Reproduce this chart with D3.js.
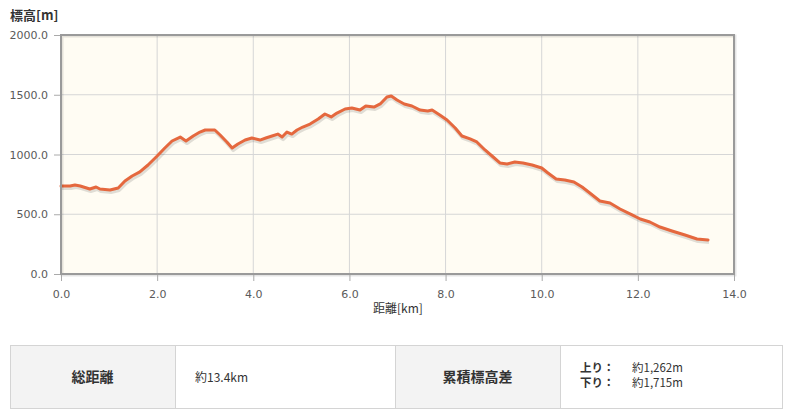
<!DOCTYPE html>
<html>
<head>
<meta charset="utf-8">
<script src="https://cdn.jsdelivr.net/npm/d3@7"></script>
<style>
  body { margin: 0; background: #fff; }
  svg { display: block; }
</style>
</head>
<body>
<svg id="chart" width="792" height="415"></svg>
<script>
// elevation profile
var distKm = [0.0, 0.19, 0.29, 0.4, 0.6, 0.73, 0.81, 1.02, 1.19, 1.33, 1.48, 1.64, 1.81, 2.0, 2.16, 2.31, 2.48,
    2.6, 2.75, 2.89, 3.0, 3.2, 3.31, 3.45, 3.56, 3.68, 3.83, 3.97, 4.14, 4.26, 4.39, 4.51, 4.6, 4.7, 4.8, 4.91,
    5.03, 5.18, 5.35, 5.49, 5.62, 5.74, 5.91, 6.05, 6.22, 6.34, 6.51, 6.64, 6.78, 6.87, 6.99, 7.14, 7.3, 7.47,
    7.63, 7.72, 7.88, 8.03, 8.2, 8.34, 8.51, 8.65, 8.82, 8.99, 9.13, 9.28, 9.44, 9.61, 9.8, 10.0, 10.13, 10.3,
    10.48, 10.67, 10.84, 11.0, 11.21, 11.42, 11.63, 11.88, 12.05, 12.25, 12.46, 12.71, 12.98, 13.23, 13.46];
var elevM = [736, 736, 745, 736, 711, 728, 711, 703, 720, 778, 820, 854, 912, 987, 1054, 1113, 1146,
    1113, 1155, 1188, 1205, 1205, 1163, 1105, 1054, 1088, 1121, 1138, 1121, 1138, 1155, 1171, 1146, 1188, 1171, 1205,
    1230, 1255, 1297, 1339, 1314, 1347, 1381, 1389, 1372, 1406, 1397, 1423, 1481, 1490, 1456, 1423, 1406, 1372,
    1364, 1372, 1331, 1289, 1222, 1155, 1130, 1105, 1038, 979, 929, 921, 937, 929, 912, 887, 845, 795,
    787, 770, 728, 678, 611, 594, 544, 494, 460, 435, 393, 360, 326, 293, 285];

var xTicks = [0, 2, 4, 6, 8, 10, 12, 14];
var yTicks = [0, 500, 1000, 1500, 2000];

var yTitle = "標高[m]";
var xTitle = "距離[km]";

var summaryLabels = ["総距離", "累積標高差"];
var totalDistance = "約13.4km";
var climbLabels = ["上り：", "下り："];
var climbValues = ["約1,262m", "約1,715m"];

var svg = d3.select("#chart");
var jp = "'Noto Sans CJK JP', 'DejaVu Sans', sans-serif";
var num = "'DejaVu Sans', sans-serif";

var plot = { left: 61, right: 734, top: 35, bottom: 274 };

var x = d3.scaleLinear().domain([0, 14]).range([plot.left, plot.right]);
var y = d3.scaleLinear().domain([0, 2000]).range([plot.bottom, plot.top]);

// plot background
svg.append("rect")
    .attr("x", plot.left).attr("y", plot.top)
    .attr("width", plot.right - plot.left).attr("height", plot.bottom - plot.top)
    .style("fill", "#fffcf3");

// grid
svg.append("g").selectAll("line.vgrid")
    .data(xTicks.slice(1, -1))
    .enter().append("line")
    .attr("x1", d => x(d)).attr("x2", d => x(d))
    .attr("y1", plot.top).attr("y2", plot.bottom)
    .style("stroke", "#d6d6d6").style("stroke-width", 1);
svg.append("g").selectAll("line.hgrid")
    .data(yTicks.slice(1, -1))
    .enter().append("line")
    .attr("x1", plot.left).attr("x2", plot.right)
    .attr("y1", d => y(d)).attr("y2", d => y(d))
    .style("stroke", "#d6d6d6").style("stroke-width", 1);

var line = d3.line()
    .x((d, i) => x(distKm[i]))
    .y(d => y(d));

// line shadow
svg.append("path")
    .datum(elevM)
    .attr("d", line)
    .attr("transform", "translate(1,2)")
    .style("fill", "none")
    .style("stroke", "#000")
    .style("stroke-opacity", 0.12)
    .style("stroke-width", 4)
    .style("stroke-linejoin", "round");

svg.append("path")
    .datum(elevM)
    .attr("d", line)
    .style("fill", "none")
    .style("stroke", "#e5683e")
    .style("stroke-width", 3)
    .style("stroke-linejoin", "round")
    .style("stroke-linecap", "round");

// frame with soft shadow
svg.append("rect")
    .attr("x", plot.left + 1).attr("y", plot.top + 1)
    .attr("width", plot.right - plot.left).attr("height", plot.bottom - plot.top)
    .style("fill", "none").style("stroke", "#000").style("stroke-opacity", 0.1).style("stroke-width", 3);
svg.append("rect")
    .attr("x", plot.left).attr("y", plot.top)
    .attr("width", plot.right - plot.left).attr("height", plot.bottom - plot.top)
    .style("fill", "none").style("stroke", "#9a9a9a").style("stroke-width", 2);

// axes
var yAxis = d3.axisLeft(y).tickValues(yTicks).tickFormat(d3.format(".1f")).tickSize(6).tickPadding(6);
var xAxis = d3.axisBottom(x).tickValues(xTicks).tickFormat(d3.format(".1f")).tickSize(6).tickPadding(9);

var gy = svg.append("g").attr("transform", `translate(${plot.left - 1},0)`).call(yAxis);
var gx = svg.append("g").attr("transform", `translate(0,${plot.bottom + 1})`).call(xAxis);
[gy, gx].forEach(g => {
    g.select(".domain").remove();
    g.selectAll(".tick line").style("stroke", "#aaa");
    g.selectAll("text")
        .style("font-family", num)
        .style("font-size", "11px")
        .style("fill", "#5a5a5a");
});

svg.append("text")
    .attr("x", 10).attr("y", 20)
    .style("font-family", jp).style("font-size", "13px").style("font-weight", "bold")
    .style("fill", "#333")
    .text(yTitle);

svg.append("text")
    .attr("x", 398).attr("y", 313)
    .attr("text-anchor", "middle")
    .style("font-family", jp).style("font-size", "12px")
    .style("fill", "#333")
    .text(xTitle);

// summary table
var cells = [
    { x0: 10, x1: 175, head: true, text: summaryLabels[0] },
    { x0: 175, x1: 395, head: false },
    { x0: 395, x1: 560, head: true, text: summaryLabels[1] },
    { x0: 560, x1: 782, head: false }
];
var tTop = 345, tBot = 408;

svg.append("g").selectAll("rect.cell")
    .data(cells)
    .enter().append("rect")
    .attr("x", d => d.x0 + 0.5).attr("y", tTop + 0.5)
    .attr("width", d => d.x1 - d.x0).attr("height", tBot - tTop)
    .style("fill", d => d.head ? "#f3f3f3" : "#fff")
    .style("stroke", "#d4d4d4");

svg.append("g").selectAll("text.head")
    .data(cells.filter(d => d.head))
    .enter().append("text")
    .attr("x", d => (d.x0 + d.x1) / 2).attr("y", 382)
    .attr("text-anchor", "middle")
    .style("font-family", jp).style("font-size", "14px").style("font-weight", "bold")
    .style("fill", "#333")
    .text(d => d.text);

svg.append("text")
    .attr("x", 195).attr("y", 382)
    .style("font-family", jp).style("font-size", "12px")
    .style("fill", "#333")
    .text(totalDistance);

svg.append("g").selectAll("text.climbLabel")
    .data(climbLabels)
    .enter().append("text")
    .attr("x", 580).attr("y", (d, i) => 372 + i * 15)
    .style("font-family", jp).style("font-size", "11.5px").style("font-weight", "bold")
    .style("fill", "#333")
    .text(d => d);

svg.append("g").selectAll("text.climbValue")
    .data(climbValues)
    .enter().append("text")
    .attr("x", 632).attr("y", (d, i) => 372 + i * 15)
    .style("font-family", jp).style("font-size", "11.5px")
    .style("fill", "#333")
    .text(d => d);
</script>
</body>
</html>
